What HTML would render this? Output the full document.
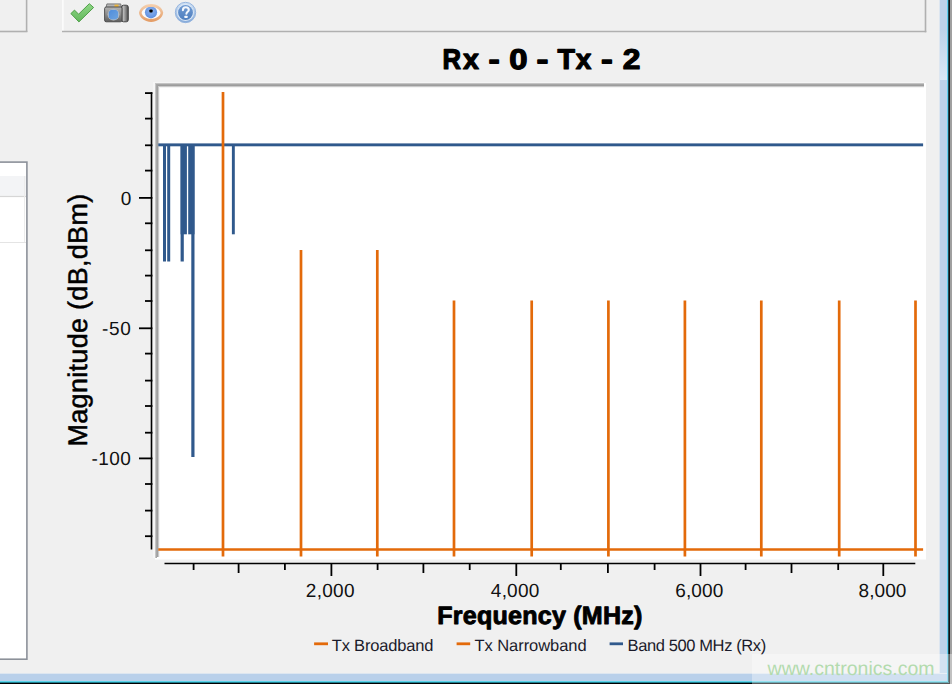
<!DOCTYPE html>
<html>
<head>
<meta charset="utf-8">
<style>
html,body{margin:0;padding:0;background:#f0f0f0;width:952px;height:684px;overflow:hidden;}
svg{display:block;position:absolute;left:0;top:0;}
text{font-family:"Liberation Sans",sans-serif;text-rendering:geometricPrecision;}
</style>
</head>
<body>
<svg width="952" height="684" viewBox="0 0 952 684">
  <rect x="0" y="0" width="952" height="684" fill="#f0f0f0"/>

  <!-- top-left panel -->
  <line x1="26.6" y1="0" x2="26.6" y2="32" stroke="#b0b0b0" stroke-width="1.6"/>
  <line x1="0" y1="31.5" x2="27.4" y2="31.5" stroke="#b0b0b0" stroke-width="1.6"/>

  <!-- toolbar -->
  <line x1="62.9" y1="0" x2="62.9" y2="31" stroke="#ffffff" stroke-width="1.2"/>
  <line x1="62" y1="31.5" x2="926.3" y2="31.5" stroke="#b0b0b0" stroke-width="1.6"/>
  <line x1="925.5" y1="0" x2="925.5" y2="32.3" stroke="#b0b0b0" stroke-width="1.6"/>

  <defs>
    <linearGradient id="gCheck" x1="0" y1="0" x2="0" y2="1">
      <stop offset="0" stop-color="#8fd786"/>
      <stop offset="1" stop-color="#63b85c"/>
    </linearGradient>
    <linearGradient id="gCam" x1="0" y1="0" x2="0" y2="1">
      <stop offset="0" stop-color="#b4b4b4"/>
      <stop offset="0.5" stop-color="#8c8c8c"/>
      <stop offset="1" stop-color="#5e5e5e"/>
    </linearGradient>
    <linearGradient id="gGrip" x1="0" y1="0" x2="1" y2="0">
      <stop offset="0" stop-color="#7a7a7a"/>
      <stop offset="0.3" stop-color="#b8b8b8"/>
      <stop offset="0.6" stop-color="#8a8a8a"/>
      <stop offset="1" stop-color="#4a4a4a"/>
    </linearGradient>
    <linearGradient id="gLens" x1="0" y1="0" x2="1" y2="1">
      <stop offset="0" stop-color="#4f8ddc"/>
      <stop offset="1" stop-color="#6ea4e0"/>
    </linearGradient>
    <linearGradient id="gEyeRim" x1="0" y1="0" x2="0" y2="1">
      <stop offset="0" stop-color="#f5d2b2"/>
      <stop offset="1" stop-color="#e39a62"/>
    </linearGradient>
    <radialGradient id="gIris" cx="0.5" cy="0.4" r="0.6">
      <stop offset="0" stop-color="#8fb4ee"/>
      <stop offset="1" stop-color="#5d8fe0"/>
    </radialGradient>
    <linearGradient id="gHelpOuter" x1="0" y1="0" x2="0" y2="1">
      <stop offset="0" stop-color="#d2e2f5"/>
      <stop offset="1" stop-color="#84a9d8"/>
    </linearGradient>
    <linearGradient id="gHelpInner" x1="0" y1="0" x2="0" y2="1">
      <stop offset="0" stop-color="#6f9ad2"/>
      <stop offset="1" stop-color="#4f7fbf"/>
    </linearGradient>
  </defs>

  <!-- toolbar icons -->
  <!-- check -->
  <polygon points="70.9,13.6 74.5,10.1 78.6,14.2 89.3,3.7 93.6,7.5 78.9,21.9" fill="url(#gCheck)" stroke="#4e9f48" stroke-width="1" stroke-linejoin="round"/>
  <!-- camera -->
  <g>
    <path d="M106,7.4 L106.9,3.9 L120.7,3.9 L121.4,7.4 Z" fill="#b4b4b4" stroke="#666" stroke-width="0.8"/>
    <rect x="114.5" y="4.6" width="4" height="2.6" fill="#efb73e"/>
    <rect x="121.5" y="5.2" width="6.8" height="16.6" rx="2" fill="url(#gGrip)" stroke="#3c3c3c" stroke-width="0.9"/>
    <rect x="104.6" y="7" width="17.4" height="14.8" rx="1.6" fill="url(#gCam)" stroke="#454545" stroke-width="0.9"/>
    <circle cx="113.5" cy="14.6" r="5.9" fill="#c2c2c2"/>
    <polygon points="110.9,9.8 116.1,9.8 118.3,12 118.3,17.2 116.1,19.4 110.9,19.4 108.7,17.2 108.7,12" fill="url(#gLens)"/>
  </g>
  <!-- eye -->
  <g>
    <clipPath id="eyeClip"><path d="M141.6,12.9 C143.2,5.2 158.8,5.2 160.6,12.9 C158.8,20.6 143.2,20.6 141.6,12.9 Z"/></clipPath>
    <path d="M139,12.8 C141,0.9 161.2,0.9 163.2,12.8 C161.2,25 141,25 139,12.8 Z" fill="url(#gEyeRim)"/>
    <path d="M141.6,12.9 C143.2,5.2 158.8,5.2 160.6,12.9 C158.8,20.6 143.2,20.6 141.6,12.9 Z" fill="#fafbfd"/>
    <circle cx="151" cy="12.3" r="6.1" fill="url(#gIris)" clip-path="url(#eyeClip)"/>
    <rect x="149.4" y="9.5" width="3.2" height="3" rx="0.8" fill="#000"/>
  </g>
  <!-- help -->
  <g>
    <circle cx="185.5" cy="12.5" r="10.2" fill="url(#gHelpOuter)" stroke="#8eb0dc" stroke-width="0.9"/>
    <circle cx="185.5" cy="12.5" r="8.5" fill="#dae7f6"/>
    <circle cx="185.5" cy="12.5" r="7.4" fill="url(#gHelpInner)"/>
    <path d="M182.9,10.2 C182.9,8.2 184.2,7.3 185.8,7.3 C187.6,7.3 188.8,8.4 188.8,9.9 C188.8,11.6 186.4,12.1 186.4,13.8" fill="none" stroke="#f2f6fc" stroke-width="2.1" stroke-linecap="round"/>
    <rect x="184.4" y="15.7" width="3.2" height="2.3" rx="0.6" fill="#f2f6fc"/>
  </g>

  <!-- left list panel -->
  <rect x="-2" y="162" width="29" height="497.2" fill="#ffffff"/>
  <rect x="-2" y="176" width="28" height="20" fill="#f3f4f6"/>
  <line x1="0" y1="196.5" x2="26" y2="196.5" stroke="#d6d6d6" stroke-width="1.2"/>
  <line x1="0" y1="242.5" x2="26" y2="242.5" stroke="#e4e4e4"/>
  <line x1="24.5" y1="176" x2="24.5" y2="242" stroke="#ececec"/>
  <rect x="-2" y="162.1" width="28.9" height="497.1" fill="none" stroke="#8c9199" stroke-width="1.6"/>

  <!-- plot box -->
  <rect x="155" y="83" width="771" height="476.5" fill="#ffffff"/>
  <g shape-rendering="crispEdges">
    <rect x="153" y="82" width="771" height="1" fill="#f5f5f5"/>
    <rect x="153" y="82" width="2" height="476" fill="#f6f6f6"/>
    <rect x="155" y="83" width="769" height="1" fill="#c4c4c4"/>
    <rect x="155" y="83" width="1" height="475" fill="#c6c6c6"/>
    <rect x="156" y="84" width="768" height="1" fill="#a6a6a6"/>
    <rect x="156" y="84" width="1" height="474" fill="#a8a8a8"/>
    <rect x="157" y="85" width="767" height="1" fill="#9c9c9c"/>
    <rect x="157" y="85" width="1" height="472" fill="#a0a0a0"/>
    <rect x="158" y="86" width="766" height="1" fill="#cacaca"/>
    <rect x="158" y="86" width="1" height="471" fill="#cacaca"/>
    <rect x="159" y="87" width="765" height="1" fill="#f4f4f4"/>
    <rect x="159" y="87" width="1" height="470" fill="#f4f4f4"/>
  </g>

  <!-- blue series -->
  <g fill="#30598c">
    <rect x="158.3" y="143.4" width="764.8" height="2.9"/>
    <rect x="163.0" y="145" width="3.0" height="116.5"/>
    <rect x="167.2" y="145" width="3.0" height="116.5"/>
    <rect x="180.6" y="145" width="6.3" height="89.3"/>
    <rect x="180.6" y="145" width="3.2" height="116.5"/>
    <rect x="188.2" y="145" width="6.3" height="89.3"/>
    <rect x="191.3" y="145" width="3.2" height="312"/>
    <rect x="231.9" y="145" width="2.9" height="89.3"/>
  </g>

  <!-- orange series -->
  <g stroke="#e36a0a" stroke-width="2.7" fill="none">
    <line x1="158.3" y1="549.5" x2="923.1" y2="549.5"/>
    <line x1="223" y1="92.1" x2="223" y2="556.4"/>
    <line x1="301" y1="250" x2="301" y2="556.4"/>
    <line x1="377.3" y1="250" x2="377.3" y2="556.4"/>
    <line x1="454" y1="300.5" x2="454" y2="556.4"/>
    <line x1="531.7" y1="300.5" x2="531.7" y2="556.4"/>
    <line x1="608.4" y1="300.5" x2="608.4" y2="556.4"/>
    <line x1="684.9" y1="300.5" x2="684.9" y2="556.4"/>
    <line x1="761.3" y1="300.5" x2="761.3" y2="556.4"/>
    <line x1="839.2" y1="300.5" x2="839.2" y2="556.4"/>
    <line x1="915.5" y1="300.5" x2="915.5" y2="556.4"/>
  </g>

  <!-- y axis -->
  <g stroke="#000" stroke-width="1.8" fill="none">
    <line x1="151.5" y1="92.2" x2="151.5" y2="549.5" stroke-width="1.6"/>
    <line x1="145" y1="93.1" x2="152.4" y2="93.1"/>
    <line x1="145" y1="118.6" x2="152.4" y2="118.6"/>
    <line x1="145" y1="145.3" x2="152.4" y2="145.3"/>
    <line x1="145" y1="170.6" x2="152.4" y2="170.6"/>
    <line x1="139" y1="197.9" x2="152.4" y2="197.9"/>
    <line x1="145" y1="223.3" x2="152.4" y2="223.3"/>
    <line x1="145" y1="250.3" x2="152.4" y2="250.3"/>
    <line x1="145" y1="275.6" x2="152.4" y2="275.6"/>
    <line x1="145" y1="301" x2="152.4" y2="301"/>
    <line x1="139" y1="328.3" x2="152.4" y2="328.3"/>
    <line x1="145" y1="353.6" x2="152.4" y2="353.6"/>
    <line x1="145" y1="380.6" x2="152.4" y2="380.6"/>
    <line x1="145" y1="406" x2="152.4" y2="406"/>
    <line x1="145" y1="432.7" x2="152.4" y2="432.7"/>
    <line x1="139" y1="458.4" x2="152.4" y2="458.4"/>
    <line x1="145" y1="484" x2="152.4" y2="484"/>
    <line x1="145" y1="510.6" x2="152.4" y2="510.6"/>
    <line x1="145" y1="536.2" x2="152.4" y2="536.2"/>
  </g>

  <!-- x axis -->
  <g stroke="#000" stroke-width="1.8" fill="none">
    <line x1="164.5" y1="563.5" x2="915.3" y2="563.5" stroke-width="1.6"/>
    <line x1="193.6" y1="563" x2="193.6" y2="570"/>
    <line x1="238.6" y1="563" x2="238.6" y2="573"/>
    <line x1="284.9" y1="563" x2="284.9" y2="570"/>
    <line x1="331.4" y1="563" x2="331.4" y2="576"/>
    <line x1="377.6" y1="563" x2="377.6" y2="570"/>
    <line x1="423.4" y1="563" x2="423.4" y2="573"/>
    <line x1="469.7" y1="563" x2="469.7" y2="570"/>
    <line x1="516.3" y1="563" x2="516.3" y2="576"/>
    <line x1="560.8" y1="563" x2="560.8" y2="570"/>
    <line x1="607.9" y1="563" x2="607.9" y2="573"/>
    <line x1="654.6" y1="563" x2="654.6" y2="570"/>
    <line x1="700.5" y1="563" x2="700.5" y2="576"/>
    <line x1="745.6" y1="563" x2="745.6" y2="570"/>
    <line x1="791.5" y1="563" x2="791.5" y2="573"/>
    <line x1="838.2" y1="563" x2="838.2" y2="570"/>
    <line x1="883.3" y1="563" x2="883.3" y2="576"/>
  </g>

  <!-- labels -->
  <g font-size="19" fill="#111" lengthAdjust="spacing">
    <text x="120.66" y="204.6" textLength="11.68" lengthAdjust="spacing">0</text>
    <text x="101.96" y="334.9" textLength="28.99" lengthAdjust="spacing">-50</text>
    <text x="91.56" y="465.1" textLength="39.39" lengthAdjust="spacing">-100</text>
    <text x="305.84" y="597.3" textLength="48.70" lengthAdjust="spacing">2,000</text>
    <text x="490.86" y="597.3" textLength="48.38" lengthAdjust="spacing">4,000</text>
    <text x="675.2" y="597.3" textLength="48.2" lengthAdjust="spacing">6,000</text>
    <text x="858.57" y="597.3" textLength="47.77" lengthAdjust="spacing">8,000</text>
  </g>

  <g font-size="28.6" font-weight="bold" fill="#000" stroke="#000" stroke-width="1.2" stroke-linejoin="round">
    <text transform="translate(452.25,68.9) scale(0.898,1)" x="-10.99">R</text>
    <text transform="translate(470.95,68.9) scale(1.000,1)" x="-7.95">x</text>
    <text transform="translate(494.20,68.9) scale(1.184,1)" x="-4.75">-</text>
    <text transform="translate(518.40,68.9) scale(1.147,1)" x="-7.93">0</text>
    <text transform="translate(542.35,68.9) scale(1.253,1)" x="-4.75">-</text>
    <text transform="translate(566.10,68.9) scale(0.998,1)" x="-8.74">T</text>
    <text transform="translate(583.50,68.9) scale(0.981,1)" x="-7.95">x</text>
    <text transform="translate(607.00,68.9) scale(1.239,1)" x="-4.75">-</text>
    <text transform="translate(631.45,68.9) scale(1.111,1)" x="-7.88">2</text>
  </g>
  <text x="437.17" y="623.75" font-size="25.1" font-weight="bold" fill="#000" stroke="#000" stroke-width="0.9" stroke-linejoin="round" textLength="205.23" lengthAdjust="spacing">Frequency (MHz)</text>
  <text transform="rotate(-90)" x="-446.51" y="86.6" font-size="27" fill="#000" stroke="#000" stroke-width="0.5" stroke-linejoin="round" textLength="252.69" lengthAdjust="spacing">Magnitude (dB,dBm)</text>

  <!-- legend -->
  <g stroke-width="2.8">
    <line x1="314.1" y1="643.8" x2="328" y2="643.8" stroke="#e36a0a"/>
    <line x1="456.6" y1="643.8" x2="470.2" y2="643.8" stroke="#e36a0a"/>
    <line x1="609.6" y1="643.8" x2="623" y2="643.8" stroke="#30598c"/>
  </g>
  <g font-size="16.5" fill="#1a1a2a">
    <text x="331.73" y="650.9" textLength="101.63" lengthAdjust="spacing">Tx Broadband</text>
    <text x="474.43" y="650.9" textLength="112.23" lengthAdjust="spacing">Tx Narrowband</text>
    <text x="627.55" y="650.9" textLength="138.58" lengthAdjust="spacing">Band 500 MHz (Rx)</text>
  </g>

  <!-- window border right -->
  <rect x="939" y="0" width="13" height="684" fill="#dde6f0"/>
  <rect x="940" y="0" width="7" height="684" fill="#bcd3ea"/>
  <rect x="947" y="0" width="1" height="684" fill="#60d0f0"/>
  <rect x="948" y="0" width="1" height="684" fill="#1a4a55"/>
  <rect x="949" y="0" width="1" height="684" fill="#111111"/>
  <rect x="950" y="0" width="2" height="684" fill="#a0a0a0"/>
  <defs><linearGradient id="gFrame" x1="0" y1="0" x2="0" y2="1"><stop offset="0" stop-color="#bcd3ea"/><stop offset="1" stop-color="#d9e8f6"/></linearGradient></defs>
  <rect x="940" y="29" width="7" height="51" fill="url(#gFrame)"/>
  <!-- window border bottom -->
  <rect x="0" y="673" width="947" height="1" fill="#dde6f0"/>
  <rect x="0" y="674" width="947" height="7" fill="#b9d0ea"/>
  <rect x="0" y="681" width="948" height="1" fill="#5ad4ea"/>
  <rect x="0" y="682" width="949" height="1" fill="#1e7f8f"/>
  <rect x="0" y="683" width="950" height="1" fill="#000000"/>

  <!-- watermark -->
  <rect x="752" y="654" width="200" height="30" fill="#ffffff" fill-opacity="0.35"/>
  <text x="767.6" y="674.6" font-size="19.5" fill="#b3dbae">www.cntronics.com</text>
</svg>
</body>
</html>
